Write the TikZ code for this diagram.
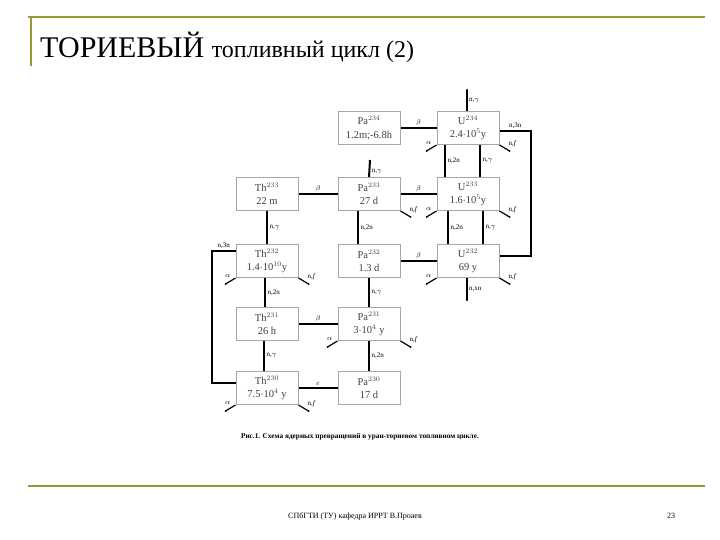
\documentclass[tikz,border=0pt]{standalone}
\usepackage{fontspec}
\setmainfont{Liberation Serif}
\begin{document}
\begin{tikzpicture}[x=1pt,y=-1pt,
  iso/.style={draw=black!35,line width=1pt,minimum width=62pt,minimum height=33pt,inner sep=0pt,align=center,font=\fontsize{10.5}{13.5}\selectfont,text=black!75},
  ln/.style={line width=2pt},
  stub/.style={line width=1.2pt},
  lb/.style={font=\fontsize{7}{8}\selectfont,inner sep=1.5pt}]
\useasboundingbox (0,0) rectangle (720,540);
\definecolor{olive}{RGB}{153,153,51}
\draw[olive,line width=1.2pt] (28,17) -- (705,17);
\draw[olive,line width=1.2pt] (31,17) -- (31,66);
\draw[olive,line width=1.2pt] (28,486) -- (705,486);
\node[anchor=base west,inner sep=0pt] (title) at (40,58) {\fontsize{30}{32}\selectfont ТОРИЕВЫЙ \fontsize{24}{26}\selectfont топливный цикл (2)};
\node (foot) at (355,516) {\fontsize{8}{9}\selectfont СПбГТИ (ТУ) кафедра ИРРТ В.Проаев};
\node (pg) at (671,516) {\fontsize{8}{9}\selectfont 23};
\node (cap) at (360,437) {\fontsize{7.3}{8}\selectfont\bfseries Рис.1. Схема ядерных превращений в уран-ториевом топливном цикле.};
% boxes
\node[iso] (pa234) at (369,128) {Pa$^{234}$\\1.2m;-6.8h};
\node[iso] (u234) at (468,128) {U$^{234}$\\2.4$\cdot$10$^5$y};
\node[iso] (th233) at (267,194) {Th$^{233}$\\22 m};
\node[iso] (pa233) at (369,194) {Pa$^{233}$\\27 d};
\node[iso] (u233) at (468,194) {U$^{233}$\\1.6$\cdot$10$^5$y};
\node[iso] (th232) at (267,261) {Th$^{232}$\\1.4$\cdot$10$^{10}$y};
\node[iso] (pa232) at (369,261) {Pa$^{232}$\\1.3 d};
\node[iso] (u232) at (468,261) {U$^{232}$\\69 y};
\node[iso] (th231) at (267,324) {Th$^{231}$\\26 h};
\node[iso] (pa231) at (369,324) {Pa$^{231}$\\3$\cdot$10$^4$ y};
\node[iso] (th230) at (267,388) {Th$^{230}$\\7.5$\cdot$10$^4$ y};
\node[iso] (pa230) at (369,388) {Pa$^{230}$\\17 d};
% horizontal links
\draw[ln] (pa234.east) -- node[lb,above]{$\beta$} (u234.west);
\draw[ln] (th233.east) -- node[lb,above]{$\beta$} (pa233.west);
\draw[ln] (pa233.east) -- node[lb,above]{$\beta$} (u233.west);
\draw[ln] (pa232.east) -- node[lb,above]{$\beta$} (u232.west);
\draw[ln] (th231.east) -- node[lb,above]{$\beta$} (pa231.west);
\draw[ln] (th230.east) -- node[lb,above]{$\varepsilon$} (pa230.west);
% vertical links
\draw[ln] ([xshift=-23pt]u234.south) -- node[lb,right]{n,2n} ([xshift=-23pt]u233.north);
\draw[ln] ([xshift=12pt]u234.south) -- node[lb,right]{n,$\gamma$} ([xshift=12pt]u233.north);
\draw[ln] ([xshift=-20pt]u233.south) -- node[lb,right]{n,2n} ([xshift=-20pt]u232.north);
\draw[ln] ([xshift=15pt]u233.south) -- node[lb,right]{n,$\gamma$} ([xshift=15pt]u232.north);
\draw[ln] (th233.south) -- node[lb,right]{n,$\gamma$} (th232.north);
\draw[ln] ([xshift=-11pt]pa233.south) -- node[lb,right]{n,2n} ([xshift=-11pt]pa232.north);
\draw[ln] ([xshift=-2pt]th232.south) -- node[lb,right]{n,2n} ([xshift=-2pt]th231.north);
\draw[ln] (pa232.south) -- node[lb,right]{n,$\gamma$} (pa231.north);
\draw[ln] ([xshift=-3pt]th231.south) -- node[lb,right]{n,$\gamma$} ([xshift=-3pt]th230.north);
\draw[ln] (pa231.south) -- node[lb,right]{n,2n} (pa230.north);
% open-ended
\coordinate (u234top) at (467,90);
\draw[stub] (u234.north -| u234top) -- node[lb,right]{n,$\gamma$} (u234top);
\fill (u234top) circle (1.2pt);
\coordinate (pa233top) at (370,160);
\draw[ln] (pa233.north) -- node[lb,right,pos=0.3]{n,$\gamma$} (pa233top);
\coordinate (u232bot) at (467,300);
\draw[stub] (u232.south -| u232bot) -- node[lb,right]{n,xn} (u232bot);
\fill (u232bot) circle (1.2pt);
% n,3n loops
\coordinate (r1) at (531,131);
\coordinate (r2) at (531,256);
\draw[ln] (u234.east |- r1) -- node[lb,above,pos=0.5]{n,3n} (r1) -- (r2) -- (u232.east |- r2);
\coordinate (l1) at (212,251);
\coordinate (l2) at (212,383);
\draw[ln] (th232.west |- l1) -- node[lb,above,pos=0.5]{n,3n} (l1) -- (l2) -- (th230.west |- l2);
% alpha / fission stubs
\foreach \n in {u234,u233,u232,th232,pa231,th230}{
  \draw[stub] (\n.south west) -- ++(-10,6) node[lb,above left,pos=0.3]{$\alpha$};
  \fill ([shift={(-10,6)}]\n.south west) circle (1pt);
}
\foreach \n in {u234,u233,pa233,u232,th232,pa231,th230}{
  \draw[stub] (\n.south east) -- ++(10,6) node[lb,above right,pos=0.7]{n,\textit{f}};
  \fill ([shift={(10,6)}]\n.south east) circle (1pt);
}
\end{tikzpicture}
\end{document}
